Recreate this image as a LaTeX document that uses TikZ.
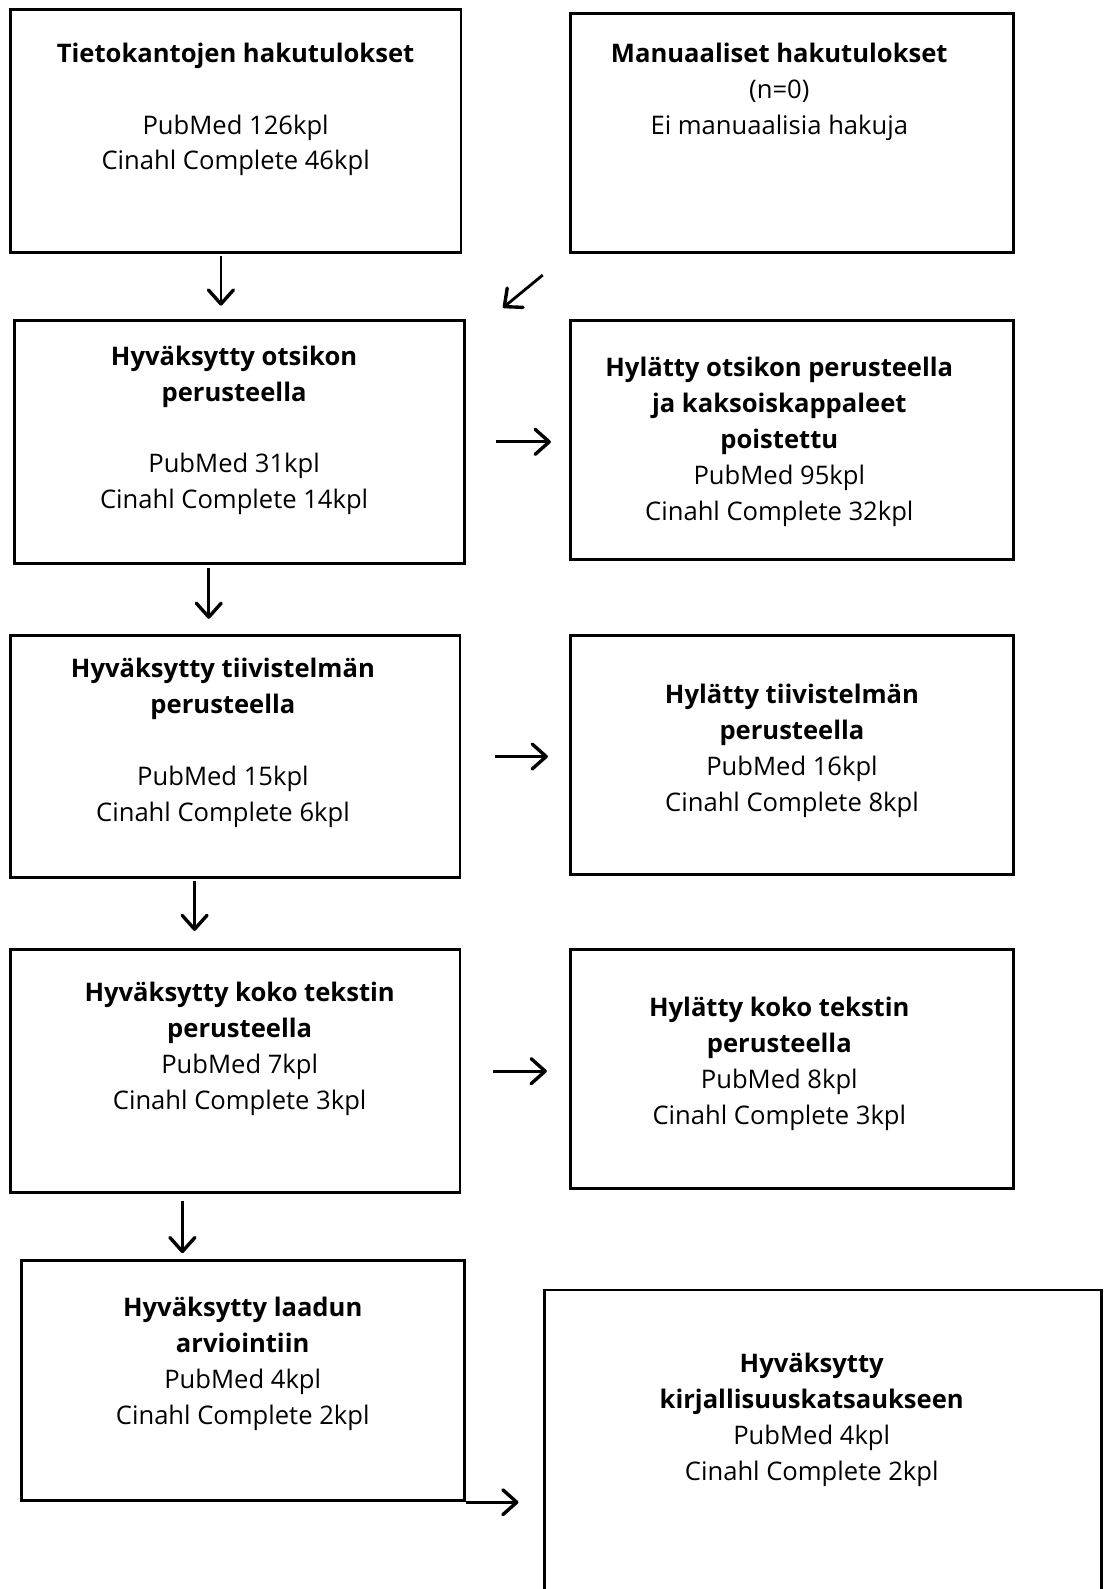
\documentclass[tikz,border=0pt]{standalone}
\usepackage{fontspec}
\setmainfont{Open Sans}
\usetikzlibrary{arrows.meta,calc}

\begin{document}
\begin{tikzpicture}[x=0.5069pt, y=-0.5069pt,
    box/.style={draw, line width=1.4pt, inner sep=0pt},
    txt/.style={anchor=north, align=center, inner sep=0pt, font=\fontsize{12.8}{18}\selectfont},
    arr/.style={line width=1.4pt, -{Straight Barb[length=7pt, width=12.5pt, line width=1.7pt, round]}}]
    \def\px{0.5069pt}
    \useasboundingbox (0,0) rectangle (1089,1568);
    \clip (0,0) rectangle (1089,1568);
    % left column
    \node[box, minimum width=445*\px, minimum height=240*\px] (db) at (232.5,129) {};
    \node[box, minimum width=444*\px, minimum height=240*\px] (hyv1) at (236,436) {};
    \node[box, minimum width=444*\px, minimum height=239*\px] (hyv2) at (232,746.5) {};
    \node[box, minimum width=444*\px, minimum height=240*\px] (hyv3) at (232,1057) {};
    \node[box, minimum width=437*\px, minimum height=237*\px] (laatu) at (239.5,1362.5) {};
    % right column
    \node[box, minimum width=437*\px, minimum height=236*\px] (man) at (781.5,131) {};
    \node[box, minimum width=437*\px, minimum height=236*\px] (hyl1) at (781.5,434) {};
    \node[box, minimum width=437*\px, minimum height=236*\px] (hyl2) at (781.5,745) {};
    \node[box, minimum width=437*\px, minimum height=236*\px] (hyl3) at (781.5,1055) {};
    \node[box, minimum width=550*\px, minimum height=327*\px] (kirj) at (812,1436.5) {}; % runs off the page
    % texts
    \node[txt] (t-db) at ([yshift=-34*\px]db.north) {\textbf{Tietokantojen hakutulokset}\\[18pt]PubMed 126kpl\\Cinahl Complete 46kpl};
    \node[txt] (t-man) at ([xshift=-12.5*\px, yshift=-30*\px]man.north) {\textbf{Manuaaliset hakutulokset}\\(n=0)\\Ei manuaalisia hakuja};
    \node[txt] (t-hyv1) at ([xshift=-5*\px, yshift=-26*\px]hyv1.north) {\textbf{Hyväksytty otsikon}\\\textbf{perusteella}\\[18pt]PubMed 31kpl\\Cinahl Complete 14kpl};
    \node[txt] (t-hyl1) at ([xshift=-12.5*\px, yshift=-37*\px]hyl1.north) {\textbf{Hylätty otsikon perusteella}\\\textbf{ja kaksoiskappaleet}\\\textbf{poistettu}\\PubMed 95kpl\\Cinahl Complete 32kpl};
    \node[txt] (t-hyv2) at ([xshift=-12*\px, yshift=-23*\px]hyv2.north) {\textbf{Hyväksytty tiivistelmän}\\\textbf{perusteella}\\[18pt]PubMed 15kpl\\Cinahl Complete 6kpl};
    \node[txt] (t-hyl2) at ([yshift=-49*\px]hyl2.north) {\textbf{Hylätty tiivistelmän}\\\textbf{perusteella}\\PubMed 16kpl\\Cinahl Complete 8kpl};
    \node[txt] (t-hyv3) at ([xshift=4.5*\px, yshift=-33*\px]hyv3.north) {\textbf{Hyväksytty koko tekstin}\\\textbf{perusteella}\\PubMed 7kpl\\Cinahl Complete 3kpl};
    \node[txt] (t-hyl3) at ([xshift=-12.5*\px, yshift=-48*\px]hyl3.north) {\textbf{Hylätty koko tekstin}\\\textbf{perusteella}\\PubMed 8kpl\\Cinahl Complete 3kpl};
    \node[txt] (t-laatu) at ([yshift=-37*\px]laatu.north) {\textbf{Hyväksytty laadun}\\\textbf{arviointiin}\\PubMed 4kpl\\Cinahl Complete 2kpl};
    \node[txt] (t-kirj) at ([xshift=-11*\px, yshift=-63*\px]kirj.north) {\textbf{Hyväksytty}\\\textbf{kirjallisuuskatsaukseen}\\PubMed 4kpl\\Cinahl Complete 2kpl};
    % arrows down
    \draw[arr, shorten <=2*\px, shorten >=13*\px] (218,0 |- db.south) -- (218,0 |- hyv1.north);
    \draw[arr, shorten <=3*\px, shorten >=15*\px] (206,0 |- hyv1.south) -- (206,0 |- hyv2.north);
    \draw[arr, shorten <=2*\px, shorten >=17*\px] (192,0 |- hyv2.south) -- (192,0 |- hyv3.north);
    \draw[arr, shorten <=7*\px, shorten >=6*\px] (180,0 |- hyv3.south) -- (180,0 |- laatu.north);
    \draw[arr] ($(man.south west)+(-26,21)$) -- ($(hyv1.north east)+(37,-11)$);
    % arrows right
    \draw[arr, shorten <=30*\px, shorten >=18*\px] (hyv1.east) -- (hyv1.east -| hyl1.west);
    \draw[arr, shorten <=33*\px, shorten >=21*\px] (hyv2.east) -- (hyv2.east -| hyl2.west);
    \draw[arr, shorten <=31*\px, shorten >=22*\px] (hyv3.east) -- (hyv3.east -| hyl3.west);
    \draw[arr, shorten >=24*\px] (laatu.south east) -- (laatu.south east -| kirj.west);
\end{tikzpicture}
\end{document}
